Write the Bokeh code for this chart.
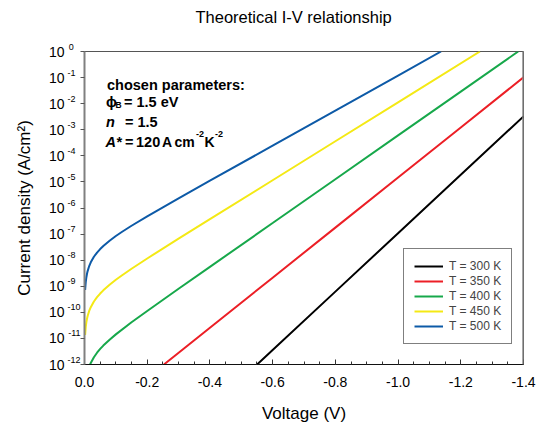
from bokeh.embed import file_html
from bokeh.models import (FixedTicker, Label, LogAxis, PrintfTickFormatter,
                          Range1d, Span)
from bokeh.plotting import figure
from bokeh.resources import INLINE

FONT = "Liberation Sans"

# ---- data: forward-bias voltage (plotted as negative) and current density (A/cm^2)
series_labels = ["T = 300 K", "T = 350 K", "T = 400 K", "T = 450 K", "T = 500 K"]
series_colors = ["#000000", "#ec1f26", "#17a84b", "#f4e915", "#0d5aa7"]

v_300 = [-0.5505, -0.6, -0.8, -1.0, -1.2, -1.4]
j_300 = [1.0e-12, 3.58e-12, 6.22e-10, 1.08e-7, 1.88e-5, 3.26e-3]

v_350 = [-0.2533, -0.4, -0.6, -0.8, -1.0, -1.2, -1.4]
j_350 = [1.0e-12, 2.56e-11, 2.13e-9, 1.77e-7, 1.47e-5, 1.22e-3, 0.102]

v_400 = [-0.0179, -0.02, -0.03, -0.04, -0.05, -0.06, -0.08, -0.10, -0.15,
         -0.2, -0.3, -0.4, -0.6, -0.8, -1.0, -1.2, -1.383]
j_400 = [1.0e-12, 1.14e-12, 1.90e-12, 2.83e-12, 3.95e-12, 5.31e-12, 8.96e-12,
         1.43e-11, 4.16e-11, 1.13e-10, 7.99e-10, 5.55e-9, 2.65e-7, 1.27e-5,
         6.08e-4, 2.91e-2, 1.0]

v_450 = [-0.002, -0.004, -0.006, -0.008, -0.01, -0.015, -0.02, -0.03, -0.04,
         -0.05, -0.06, -0.08, -0.10, -0.12, -0.15, -0.2, -0.3, -0.4, -0.6,
         -0.8, -1.0, -1.261]
j_450 = [1.35e-11, 2.75e-11, 4.19e-11, 5.69e-11, 7.24e-11, 1.135e-10, 1.58e-10,
         2.60e-10, 3.81e-10, 5.25e-10, 6.97e-10, 1.14e-9, 1.77e-9, 2.65e-9,
         4.70e-9, 1.16e-8, 6.66e-8, 3.73e-7, 1.16e-5, 3.63e-4, 1.13e-2, 1.0]

v_500 = [-0.002, -0.004, -0.006, -0.008, -0.01, -0.015, -0.02, -0.03, -0.04,
         -0.05, -0.06, -0.08, -0.10, -0.12, -0.15, -0.2, -0.3, -0.4, -0.6,
         -0.8, -1.0, -1.137]
j_500 = [7.16e-10, 1.455e-9, 2.22e-9, 3.00e-9, 3.81e-9, 5.95e-9, 8.27e-9,
         1.35e-8, 1.95e-8, 2.66e-8, 3.49e-8, 5.58e-8, 8.43e-8, 1.23e-7,
         2.09e-7, 4.80e-7, 2.34e-6, 1.11e-5, 2.45e-4, 5.41e-3, 0.1195, 1.0]

x_tick_values = [0.0, -0.2, -0.4, -0.6, -0.8, -1.0, -1.2, -1.4]
x_minor_values = [round(-0.05 * i, 2) for i in range(1, 28)]
y_tick_values = [1.0, 1e-1, 1e-2, 1e-3, 1e-4, 1e-5, 1e-6, 1e-7, 1e-8, 1e-9,
                 1e-10, 1e-11, 1e-12]
y_exponents = ["0", "-1", "-2", "-3", "-4", "-5", "-6", "-7", "-8", "-9",
               "-10", "-11", "-12"]

# ---- figure
FRAME_L, FRAME_T = 84, 51

p = figure(width=538, height=425, x_range=Range1d(0, -1.4),
           y_range=Range1d(1e-12, 1), y_axis_type="log",
           output_backend="svg", toolbar_location=None,
           min_border_left=FRAME_L, min_border_right=15,
           min_border_top=FRAME_T, min_border_bottom=60)
p.background_fill_color = "white"
p.border_fill_color = "white"
p.xgrid.visible = False
p.ygrid.visible = False
p.outline_line_color = "#555555"
p.outline_line_width = 1

# title: a blank second line lifts it towards the top of the canvas
p.title.text = "Theoretical I-V relationship\n "
p.title.text_font = FONT
p.title.text_font_size = "16.5px"
p.title.text_font_style = "normal"
p.title.text_color = "black"
p.title.align = "left"
p.title.offset = 111
p.title.vertical_align = "top"
p.title.standoff = 12

# x axis: ticks point inward
p.xaxis.ticker = FixedTicker(ticks=x_tick_values, minor_ticks=x_minor_values)
p.xaxis.formatter = PrintfTickFormatter(format="%.1f")
p.xaxis.axis_line_color = "#111111"
p.xaxis.axis_line_width = 1
p.xaxis.major_tick_in = 5
p.xaxis.major_tick_out = 0
p.xaxis.minor_tick_in = 3
p.xaxis.minor_tick_out = 0
p.xaxis.major_tick_line_color = "#333333"
p.xaxis.minor_tick_line_color = "#333333"
p.xaxis.major_label_text_font = FONT
p.xaxis.major_label_text_font_size = "14px"
p.xaxis.major_label_text_color = "black"
p.xaxis.major_label_standoff = 12
p.xaxis.axis_label = "Voltage (V)"
p.xaxis.axis_label_text_font = FONT
p.xaxis.axis_label_text_font_size = "17px"
p.xaxis.axis_label_text_font_style = "normal"
p.xaxis.axis_label_text_color = "black"
p.xaxis.axis_label_standoff = 14

# y axis, inner part: decade ticks pointing outward with the exponents,
# set one line high so they sit like superscripts
decade_ticker = FixedTicker(ticks=y_tick_values, minor_ticks=[])
pad = {1: "\u2007\u2009", 2: "\u2007", 3: ""}
exp_text = [e + pad[len(e)] + "\n " for e in y_exponents]

ax_exp = p.yaxis[0]
ax_exp.ticker = decade_ticker
ax_exp.major_label_overrides = dict(zip(y_tick_values, exp_text))
ax_exp.axis_line_color = "#808080"
ax_exp.axis_line_width = 2
ax_exp.major_tick_in = 0
ax_exp.major_tick_out = 4
ax_exp.major_tick_line_color = "#555555"
ax_exp.major_label_text_font = FONT
ax_exp.major_label_text_font_size = "9px"
ax_exp.major_label_text_color = "black"
ax_exp.major_label_text_line_height = 1.0
ax_exp.major_label_standoff = 0

# y axis, outer part: the base "10" and the axis title
ax_base = LogAxis(ticker=FixedTicker(ticks=y_tick_values, minor_ticks=[]))
ax_base.major_label_overrides = {t: "10" for t in y_tick_values}
ax_base.axis_line_color = None
ax_base.major_tick_line_color = None
ax_base.minor_tick_line_color = None
ax_base.major_tick_in = 0
ax_base.major_tick_out = 0
ax_base.major_label_text_font = FONT
ax_base.major_label_text_font_size = "14px"
ax_base.major_label_text_color = "black"
ax_base.major_label_standoff = 0
ax_base.axis_label = "Current density (A/cm\u00b2)"
ax_base.axis_label_text_font = FONT
ax_base.axis_label_text_font_size = "17px"
ax_base.axis_label_text_font_style = "normal"
ax_base.axis_label_text_color = "black"
ax_base.axis_label_standoff = 12
p.add_layout(ax_base, "left")

# right edge of the frame
p.add_layout(Span(location=-1.4, dimension="height", line_color="#8a8a8a",
                  line_width=2.5))

# ---- curves
for v, j, lab, col in zip([v_300, v_350, v_400, v_450, v_500],
                          [j_300, j_350, j_400, j_450, j_500],
                          series_labels, series_colors):
    p.line(v, j, line_color=col, line_width=2, legend_label=lab)

leg = p.legend[0]
leg.location = (319, 20)
leg.border_line_color = "black"
leg.border_line_width = 1
leg.background_fill_color = "white"
leg.padding = 10
leg.spacing = 1
leg.margin = 0
leg.glyph_height = 12
leg.glyph_width = 29
leg.label_height = 12
leg.label_standoff = 6
leg.label_text_font = FONT
leg.label_text_font_size = "12px"


def note(text, X, Y, size, style="bold"):
    """Parameter text placed by pixel position from the canvas corner."""
    p.add_layout(Label(x=0, y=1, x_offset=X - FRAME_L, y_offset=FRAME_T - Y,
                       text=text, text_font=FONT,
                       text_font_size=f"{size}px", text_font_style=style,
                       text_align="left", text_baseline="alphabetic",
                       text_color="black"))


# parameter block
note("chosen parameters:", 106.5, 84, 14.5)
note("\u03d5", 105.5, 101.5, 14.5)
note("B", 115, 104.5, 8.5)
note("= 1.5 eV", 123.5, 101.5, 14.5)
note("n", 105.5, 121, 14.5, style="bold italic")
note("= 1.5", 124.5, 121, 14.5)
note("A*", 105, 141, 14.5, style="bold italic")
note("=", 124.5, 141, 14.5)
note("120", 135.5, 141, 14.5)
note("A", 161.5, 141, 14)
note("cm", 174, 141, 14)
note("-2", 195.5, 133.5, 9)
note("K", 204, 141, 14)
note("-2", 214.5, 133.5, 9)

with open("out.html", "w") as fh:
    fh.write(file_html(p, INLINE))
